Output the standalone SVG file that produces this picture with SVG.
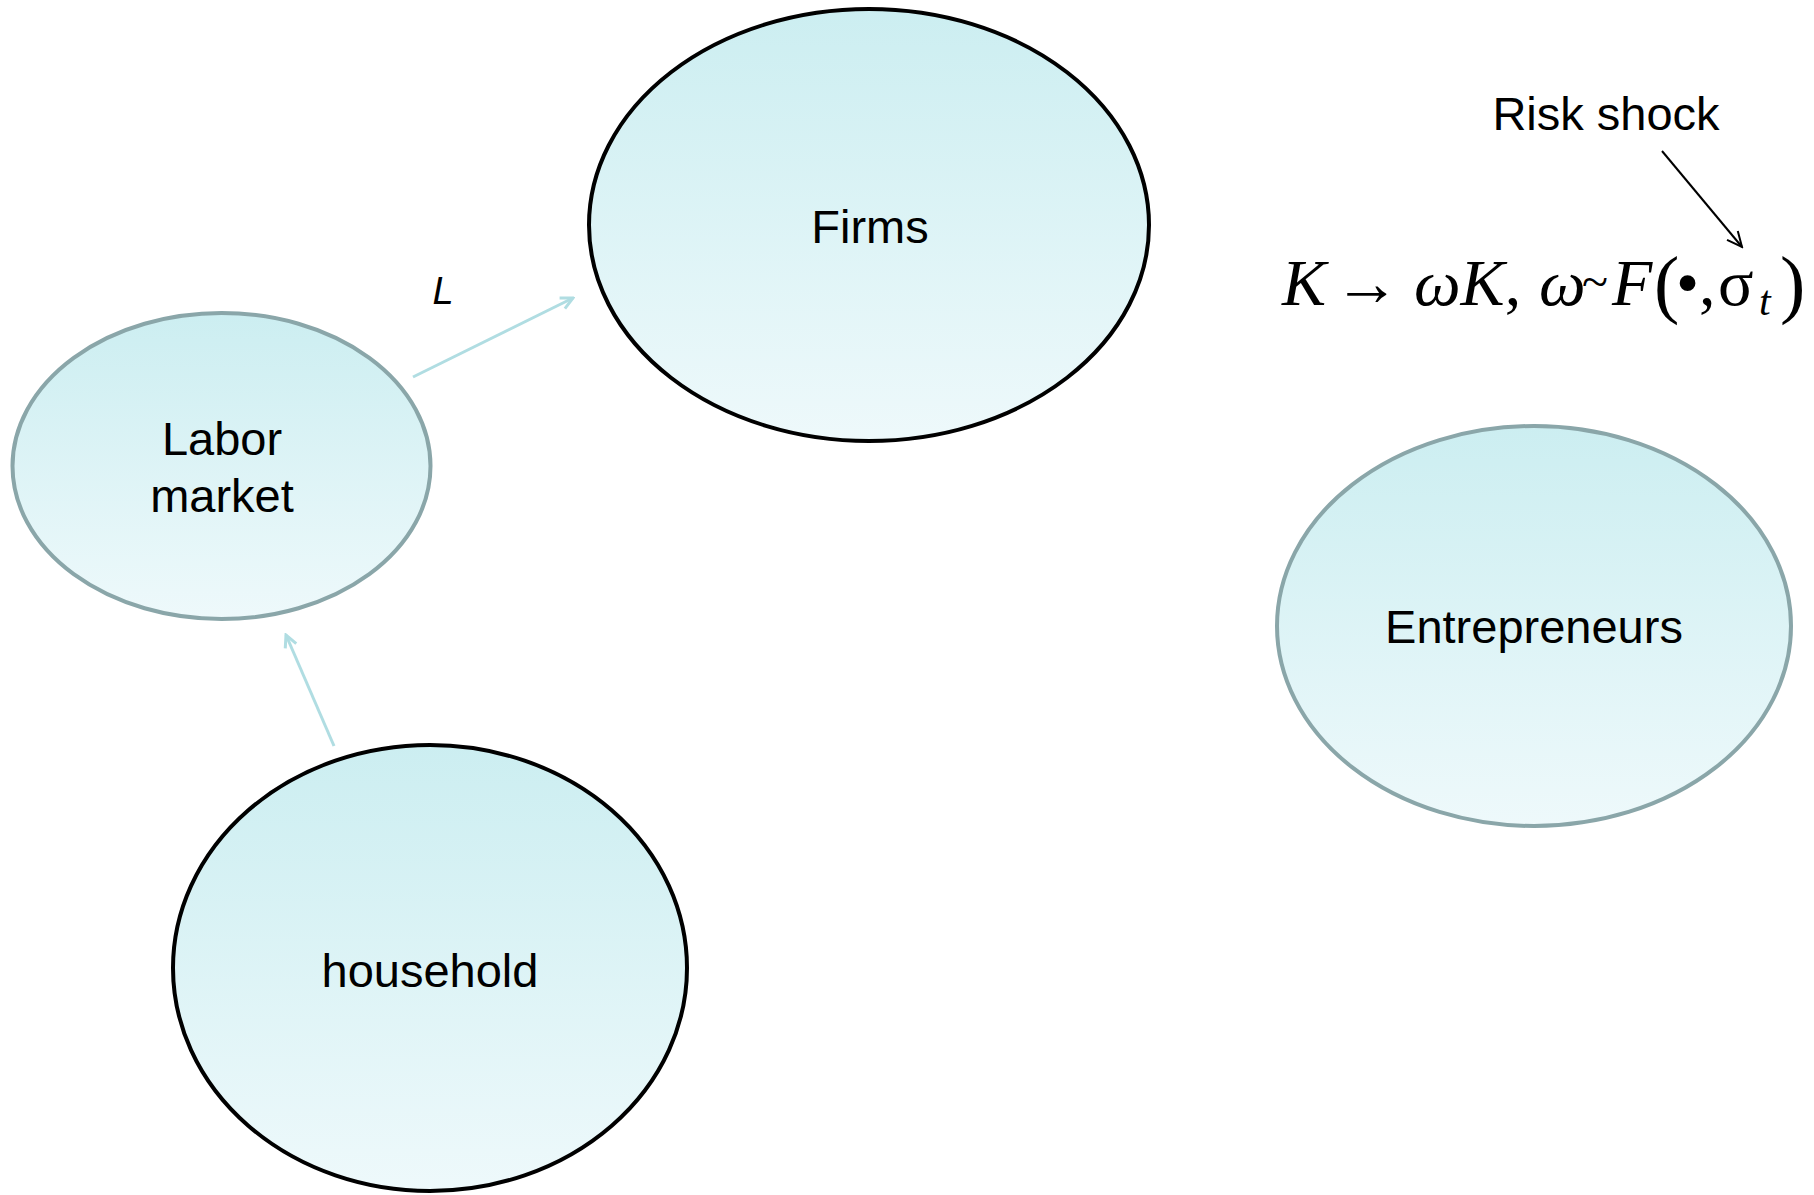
<svg xmlns="http://www.w3.org/2000/svg" width="1814" height="1195" viewBox="0 0 1814 1195">
<defs>
<linearGradient id="fillg" x1="0" y1="0" x2="0" y2="1">
<stop offset="0" stop-color="#CCEEF1"/>
<stop offset="1" stop-color="#EEF9FB"/>
</linearGradient>
<marker id="openLight" markerWidth="16" markerHeight="16" refX="14" refY="8" orient="auto" markerUnits="userSpaceOnUse">
<path d="M2,2 L14,8 L2,14" fill="none" stroke="#B0DDE2" stroke-width="3"/>
</marker>
<marker id="openBlack" markerWidth="20" markerHeight="20" refX="18" refY="10" orient="auto" markerUnits="userSpaceOnUse">
<path d="M3,3 L18,10 L3,17" fill="none" stroke="#000" stroke-width="2"/>
</marker>
</defs>
<style>
.node { fill: url(#fillg); }
.dark { stroke: #000; stroke-width: 4; }
.gray { stroke: #8AA6A9; stroke-width: 4; }
.lbl { font-family: "Liberation Sans", Arial, sans-serif; font-size: 47px; fill: #000; text-anchor: middle; }
.light { stroke: #B0DDE2; stroke-width: 3; fill: none; }
.math { font-family: "Liberation Serif", "Times New Roman", serif; font-size: 66px; fill: #000; }
.it { font-style: italic; }
</style>
<rect width="1814" height="1195" fill="#fff"/>
<g id="connectors">
<line class="light" x1="413" y1="377" x2="573" y2="298" marker-end="url(#openLight)"/>
<line class="light" x1="334" y1="746" x2="286" y2="635" marker-end="url(#openLight)"/>
<line x1="1662" y1="151" x2="1742" y2="247" stroke="#000" stroke-width="2" marker-end="url(#openBlack)"/>
</g>
<g id="firms">
<ellipse class="node dark" cx="869" cy="225" rx="280" ry="216"/>
<text class="lbl" x="870" y="243">Firms</text>
</g>
<g id="labor-market">
<ellipse class="node gray" cx="221.5" cy="466" rx="209" ry="153"/>
<text class="lbl" x="222" y="455">Labor</text>
<text class="lbl" x="222" y="512">market</text>
</g>
<g id="household">
<ellipse class="node dark" cx="430" cy="968" rx="257" ry="223"/>
<text class="lbl" x="430" y="987">household</text>
</g>
<g id="entrepreneurs">
<ellipse class="node gray" cx="1534" cy="626" rx="257" ry="200"/>
<text class="lbl" x="1534" y="643">Entrepreneurs</text>
</g>
<g id="risk-shock">
<text class="lbl" x="1606" y="130">Risk shock</text>
</g>
<g id="formula">
<text class="math" y="305"><tspan class="it" x="1282">K</tspan><tspan x="1334">→</tspan><tspan class="it" x="1414">ωK</tspan><tspan>,</tspan><tspan class="it" x="1539">ω</tspan><tspan x="1582" font-size="48" dy="-7">~</tspan><tspan class="it" x="1612" dy="7">F</tspan><tspan x="1654" font-size="76" dy="4">(</tspan><tspan x="1676" dy="-4">•</tspan><tspan x="1699">,</tspan><tspan x="1718">σ</tspan><tspan class="it" x="1759" font-size="42" dy="10">t</tspan><tspan x="1780" font-size="76" dy="-6">)</tspan></text>
</g>
<g id="label-L">
<text x="443" y="304" font-family="'Liberation Sans', Arial, sans-serif" font-style="italic" font-size="38" text-anchor="middle">L</text>
</g>
</svg>
